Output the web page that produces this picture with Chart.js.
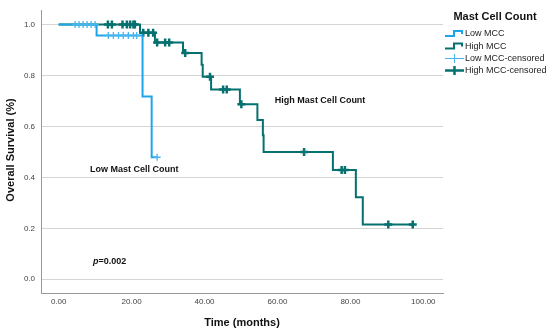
<!DOCTYPE html>
<html><head><meta charset="utf-8">
<script src="https://cdn.jsdelivr.net/npm/chart.js@4.4.0/dist/chart.umd.min.js"></script>
<style>html,body{margin:0;padding:0;background:#fff;overflow:hidden;}#c{display:block;}</style>
</head><body><canvas id="c" width="550" height="333" style="width:550px;height:333px"></canvas>
<script>
const xTicks = [0, 20, 40, 60, 80, 100];
const yTicks = [0, 0.2, 0.4, 0.6, 0.8, 1.0];

const lowTimes = [0, 10.4, 23.0, 25.5, 27.0];
const lowSurv  = [1, 0.957, 0.718, 0.479, 0.479];
const lowCensTimes = [4.5, 5.6, 6.7, 7.8, 8.9, 10.0, 13.6, 15.0, 16.4, 17.7, 19.1, 20.5, 21.4, 27.0];
const lowCensSurv  = [1, 1, 1, 1, 1, 1, 0.957, 0.957, 0.957, 0.957, 0.957, 0.957, 0.957, 0.479];

const highTimes = [0, 22.3, 26.4, 34.1, 39.2, 39.5, 41.8, 49.7, 54.5, 56.0, 56.2, 75.2, 81.5, 83.4, 97.1];
const highSurv  = [1, 0.968, 0.930, 0.888, 0.842, 0.795, 0.745, 0.687, 0.625, 0.565, 0.500, 0.429, 0.322, 0.215, 0.215];
const highCensTimes = [13.5, 14.6, 17.5, 18.7, 19.6, 20.5, 20.9, 23.2, 24.6, 25.9, 27.0, 29.2, 30.3, 34.7, 41.5, 45.1, 46.1, 50.1, 67.3, 77.6, 78.5, 90.4, 97.1];
const highCensSurv  = [1, 1, 1, 1, 1, 1, 1, 0.968, 0.968, 0.968, 0.930, 0.930, 0.930, 0.888, 0.795, 0.745, 0.745, 0.687, 0.500, 0.429, 0.429, 0.215, 0.215];

const LOW = '#1ea5e9', LOWC = '#45b6f0', HIGH = '#04706f';
const FONT = '"Liberation Sans", Arial, sans-serif';

const pts = (xs, ys) => xs.map((x, i) => ({x: x, y: ys[i]}));

const decor = {
  id: 'decor',
  afterDraw(chart) {
    const ctx = chart.ctx, ca = chart.chartArea;
    const xs = chart.scales.x, ys = chart.scales.y;
    ctx.save();
    ctx.fillStyle = '#111';
    ctx.textAlign = 'center'; ctx.textBaseline = 'middle';
    ctx.font = 'bold 11px ' + FONT;
    ctx.fillText('Time (months)', (ca.left + ca.right) / 2, 323);
    ctx.save();
    ctx.translate(11, 150);
    ctx.rotate(-Math.PI / 2);
    ctx.font = 'bold 11px ' + FONT;
    ctx.fillText('Overall Survival (%)', 0, 0);
    ctx.restore();
    ctx.font = 'bold 9px ' + FONT;
    ctx.fillText('High Mast Cell Count', xs.getPixelForValue(71.7), ys.getPixelForValue(0.70));
    ctx.fillText('Low Mast Cell Count', xs.getPixelForValue(20.7), ys.getPixelForValue(0.43));
    ctx.textAlign = 'left';
    const px = xs.getPixelForValue(9.4), py = ys.getPixelForValue(0.07);
    ctx.font = 'italic bold 9px ' + FONT;
    ctx.fillText('p', px, py);
    const pw = ctx.measureText('p').width;
    ctx.font = 'bold 9px ' + FONT;
    ctx.fillText('=0.002', px + pw, py);
    ctx.textAlign = 'center';
    ctx.font = 'bold 11px ' + FONT;
    ctx.fillText('Mast Cell Count', 495, 17);
    const x0 = ca.right + 2;
    const items = [
      {label: 'Low MCC', color: LOW, type: 'step', w: 2},
      {label: 'High MCC', color: HIGH, type: 'step', w: 2},
      {label: 'Low MCC-censored', color: LOWC, type: 'cens', w: 1},
      {label: 'High MCC-censored', color: HIGH, type: 'cens', w: 2.5}
    ];
    const rows = [34, 46.5, 58.5, 70.5];
    items.forEach((it, i) => {
      const y = rows[i];
      ctx.strokeStyle = it.color; ctx.lineWidth = it.w;
      ctx.beginPath();
      if (it.type === 'step') {
        ctx.moveTo(x0, y + 2); ctx.lineTo(x0 + 9, y + 2); ctx.lineTo(x0 + 9, y - 3);
        ctx.lineTo(x0 + 17, y - 3); ctx.lineTo(x0 + 17, y);
      } else {
        ctx.moveTo(x0, y); ctx.lineTo(x0 + 19, y);
        ctx.moveTo(x0 + 9.5, y - 4.5); ctx.lineTo(x0 + 9.5, y + 4.5);
      }
      ctx.stroke();
      ctx.fillStyle = '#222'; ctx.textAlign = 'left';
      ctx.font = '9px ' + FONT;
      ctx.fillText(it.label, x0 + 20, y);
    });
    ctx.restore();
  }
};

new Chart(document.getElementById('c'), {
  type: 'line',
  data: {
    datasets: [
      {label: 'Low MCC-censored', type: 'scatter', data: pts(lowCensTimes, lowCensSurv), order: 0,
       pointStyle: 'cross', pointRadius: 3.5, borderColor: LOWC, pointBorderWidth: 1.3, showLine: false},
      {label: 'Low MCC', data: pts(lowTimes, lowSurv), order: 1, stepped: true,
       borderColor: LOW, borderWidth: 2, pointRadius: 0, fill: false},
      {label: 'High MCC-censored', type: 'scatter', data: pts(highCensTimes, highCensSurv), order: 2,
       pointStyle: 'cross', pointRadius: 4, borderColor: HIGH, pointBorderWidth: 2.5, showLine: false},
      {label: 'High MCC', data: pts(highTimes, highSurv), order: 3, stepped: true,
       borderColor: HIGH, borderWidth: 2, pointRadius: 0, fill: false}
    ]
  },
  options: {
    responsive: false, animation: false, maintainAspectRatio: false,
    devicePixelRatio: 1,
    layout: {padding: {left: 0, top: 7, right: 107, bottom: 0}},
    plugins: {legend: {display: false}, tooltip: {enabled: false}, title: {display: false}},
    scales: {
      x: {type: 'linear', min: -4.85, max: 105.4,
          afterBuildTicks: s => { s.ticks = xTicks.map(v => ({value: v})); },
          afterFit: s => { s.height = 40; },
          ticks: {callback: v => Number(v).toFixed(2), font: {family: FONT, size: 8}, color: '#444', padding: 4, maxRotation: 0},
          grid: {display: false, drawTicks: false},
          border: {display: true, color: '#9a9a9a', width: 1}},
      y: {type: 'linear', min: -0.054, max: 1.054,
          afterBuildTicks: s => { s.ticks = yTicks.map(v => ({value: v})); },
          afterFit: s => { s.width = 41; },
          ticks: {callback: v => Number(v).toFixed(1), font: {family: FONT, size: 8}, color: '#444', padding: 6},
          grid: {display: true, color: '#d4d4d4', lineWidth: 1, drawTicks: false},
          border: {display: true, color: '#9a9a9a', width: 1}}
    }
  },
  plugins: [decor]
});
</script></body></html>
